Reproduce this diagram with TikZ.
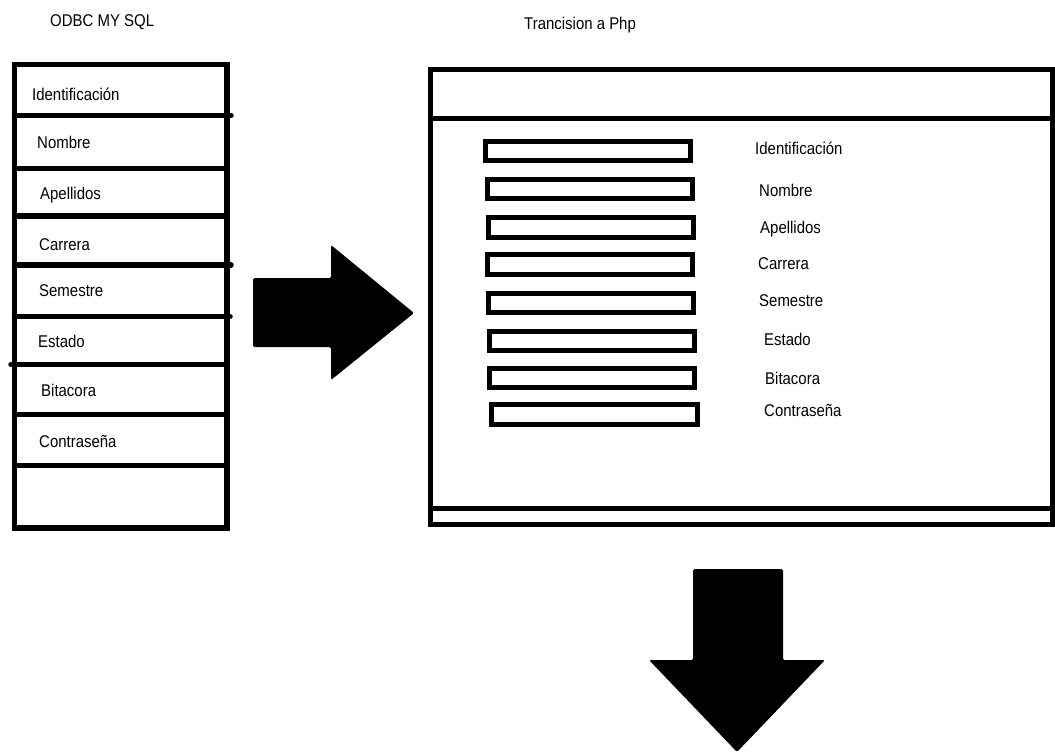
\documentclass[tikz,border=0pt]{standalone}
\usepackage{fontspec}
\setmainfont{Liberation Sans}[FakeStretch=0.88]
\usepackage{tikz}

\begin{document}
\begin{tikzpicture}[x=1pt, y=-1pt]
    \tikzstyle{frame} = [line width=5.5pt, draw=black]
    \tikzstyle{field} = [line width=5pt, draw=black]
    \tikzstyle{label} = [anchor=base west, inner sep=0pt, font=\fontsize{17}{20}\selectfont]
    \tikzstyle{bigarrow} = [fill=black, rounded corners=1.5pt]

    \useasboundingbox (0,0) rectangle (1055,753);

    % titles
    \node [label] (odbc) at (50,26) {ODBC MY SQL};
    \node [label] (php) at (524,29) {Trancision a Php};

    % ODBC table
    \draw [frame] (14.5,64.5) rectangle (227,528);
    \draw [frame, line cap=round] (14.5,115.5) -- (231,115.5);
    \draw [frame] (14.5,168.5) -- (227,168.5);
    \draw [frame] (14.5,216) -- (227,216);
    \draw [frame, line cap=round] (14.5,265) -- (231,265);
    \draw [frame, line cap=round] (14.5,316.5) -- (230,316.5);
    \draw [frame, line cap=round] (11,364.5) -- (227,364.5);
    \draw [frame] (14.5,414.5) -- (227,414.5);
    \draw [frame] (14.5,465.5) -- (227,465.5);

    \node [label] (tid) at (32,100) {Identificación};
    \node [label] (tnom) at (37,148) {Nombre};
    \node [label] (tape) at (40,199) {Apellidos};
    \node [label] (tcar) at (39,250) {Carrera};
    \node [label] (tsem) at (39,296) {Semestre};
    \node [label] (test) at (38,347) {Estado};
    \node [label] (tbit) at (41,396) {Bitacora};
    \node [label] (tcon) at (39,447) {Contraseña};

    % transition arrow
    \fill [bigarrow] (253,278) -- (331,278) -- (331,245) -- (414,313)
        -- (331,380) -- (331,347) -- (253,347) -- cycle;

    % PHP window
    \draw [frame, line width=5pt] (430,69.5) rectangle (1052,524.5);
    \draw [frame, line width=5pt] (430,118) -- (1052,118);
    \draw [frame, line width=5pt] (430,508) -- (1052,508);

    \foreach \xa/\ya/\xb/\yb in {485.5/141.5/690.5/160.5, 487.5/179.5/692.5/198.5,
        488.5/217.5/693.5/237.5, 487.5/254.5/692.5/274.5, 488.5/293.5/693.5/312.5,
        489.5/331.5/694.5/350.5, 489.5/368.5/694.5/387.5, 491.5/404.5/697.5/424.5}
        \draw [field] (\xa,\ya) rectangle (\xb,\yb);

    \node [label] (pid) at (755,154) {Identificación};
    \node [label] (pnom) at (759,196) {Nombre};
    \node [label] (pape) at (760,233) {Apellidos};
    \node [label] (pcar) at (758,269) {Carrera};
    \node [label] (psem) at (759,306) {Semestre};
    \node [label] (pest) at (764,345) {Estado};
    \node [label] (pbit) at (765,384) {Bitacora};
    \node [label] (pcon) at (764,416) {Contraseña};

    % output arrow
    \fill [bigarrow] (693,569) -- (783,569) -- (783,660) -- (825,660)
        -- (737,752) -- (649,660) -- (693,660) -- cycle;

\end{tikzpicture}
\end{document}
